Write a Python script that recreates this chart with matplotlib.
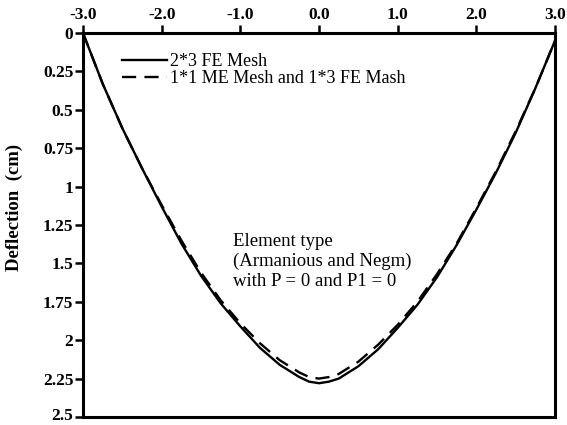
import matplotlib
matplotlib.use("Agg")
import matplotlib.pyplot as plt
import matplotlib.transforms as mtransforms
import numpy as np

# Data
x_fe = [-3.0, -2.75, -2.5, -2.25, -2.0, -1.75, -1.5, -1.25, -1.0, -0.75, -0.5, -0.25, -0.125, 0.0,
        0.125, 0.25, 0.5, 0.75, 1.0, 1.25, 1.5, 1.75, 2.0, 2.25, 2.5, 2.75, 3.0]
y_fe = [0.0, 0.33, 0.62, 0.88, 1.13, 1.37, 1.58, 1.76, 1.91, 2.05, 2.16, 2.24, 2.27, 2.28,
        2.27, 2.25, 2.17, 2.06, 1.92, 1.77, 1.59, 1.38, 1.15, 0.91, 0.65, 0.36, 0.05]
x_me = [-3.0, -2.75, -2.5, -2.25, -2.0, -1.75, -1.5, -1.25, -1.0, -0.75, -0.5, -0.25, -0.125, 0.0,
        0.125, 0.25, 0.5, 0.75, 1.0, 1.25, 1.5, 1.75, 2.0, 2.25, 2.5, 2.75, 3.0]
y_me = [0.0, 0.33, 0.62, 0.88, 1.12, 1.35, 1.56, 1.74, 1.89, 2.02, 2.13, 2.21, 2.24, 2.25,
        2.24, 2.22, 2.14, 2.03, 1.90, 1.75, 1.57, 1.37, 1.14, 0.90, 0.64, 0.36, 0.05]

xticks = [-3.0, -2.0, -1.0, 0.0, 1.0, 2.0, 3.0]
xtick_labels = ["-3.0", "-2.0", "-1.0", "0.0", "1.0", "2.0", "3.0"]
yticks = [0, 0.25, 0.5, 0.75, 1, 1.25, 1.5, 1.75, 2, 2.25, 2.5]
ytick_labels = ["0", "0.25", "0.5", "0.75", "1", "1.25", "1.5", "1.75", "2", "2.25", "2.5"]

label_fe = "2*3 FE Mesh"
label_me = "1*1 ME Mesh and 1*3 FE Mash"
annotation = "Element type\n(Armanious and Negm)\nwith P = 0 and P1 = 0"

plt.rcParams['font.family'] = ['Liberation Serif', 'DejaVu Serif']

fig = plt.figure(figsize=(5.67, 4.25), dpi=100)
ax = fig.add_axes([83/567, 1 - 417/425, (555 - 83)/567, (417 - 33)/425])

ax.plot(x_fe, y_fe, color='black', lw=1.7, label=label_fe)
ax.plot(x_me, y_me, color='black', lw=1.7, dashes=(6, 3.5), label=label_me)

ax.set_xlim(-3.0, 3.0)
ax.set_ylim(2.5, 0)
ax.xaxis.tick_top()
ax.set_xticks(xticks)
ax.set_xticklabels(xtick_labels, fontweight='bold', fontsize=12.5)
ax.set_yticks(yticks)
ax.set_yticklabels(ytick_labels, fontweight='bold', fontsize=12.5)
ax.tick_params(axis='both', direction='out', length=6, width=1.8, pad=1)
ax.set_ylabel("Deflection  (cm)", fontsize=13.5, fontweight='bold')
ax.yaxis.set_label_coords(-0.128, 0.547)

# nudge the bottom y tick label up slightly so it stays inside the figure
last = ax.get_yticklabels()[-1]
last.set_transform(last.get_transform() +
                   mtransforms.ScaledTranslation(0, 2.5/72, fig.dpi_scale_trans))

for s in ax.spines.values():
    s.set_linewidth(2.2)
    s.set_color('black')

leg = ax.legend(loc='upper left', bbox_to_anchor=(0.083, 0.947), frameon=False,
                fontsize=13, handlelength=2.5, handletextpad=0.15,
                labelspacing=0.0, borderaxespad=0, borderpad=0)

ax.text(0.318, 0.478, annotation, transform=ax.transAxes, fontsize=13.5,
        ha='left', va='top', linespacing=1.2)

fig.savefig("out.png", dpi=100)
